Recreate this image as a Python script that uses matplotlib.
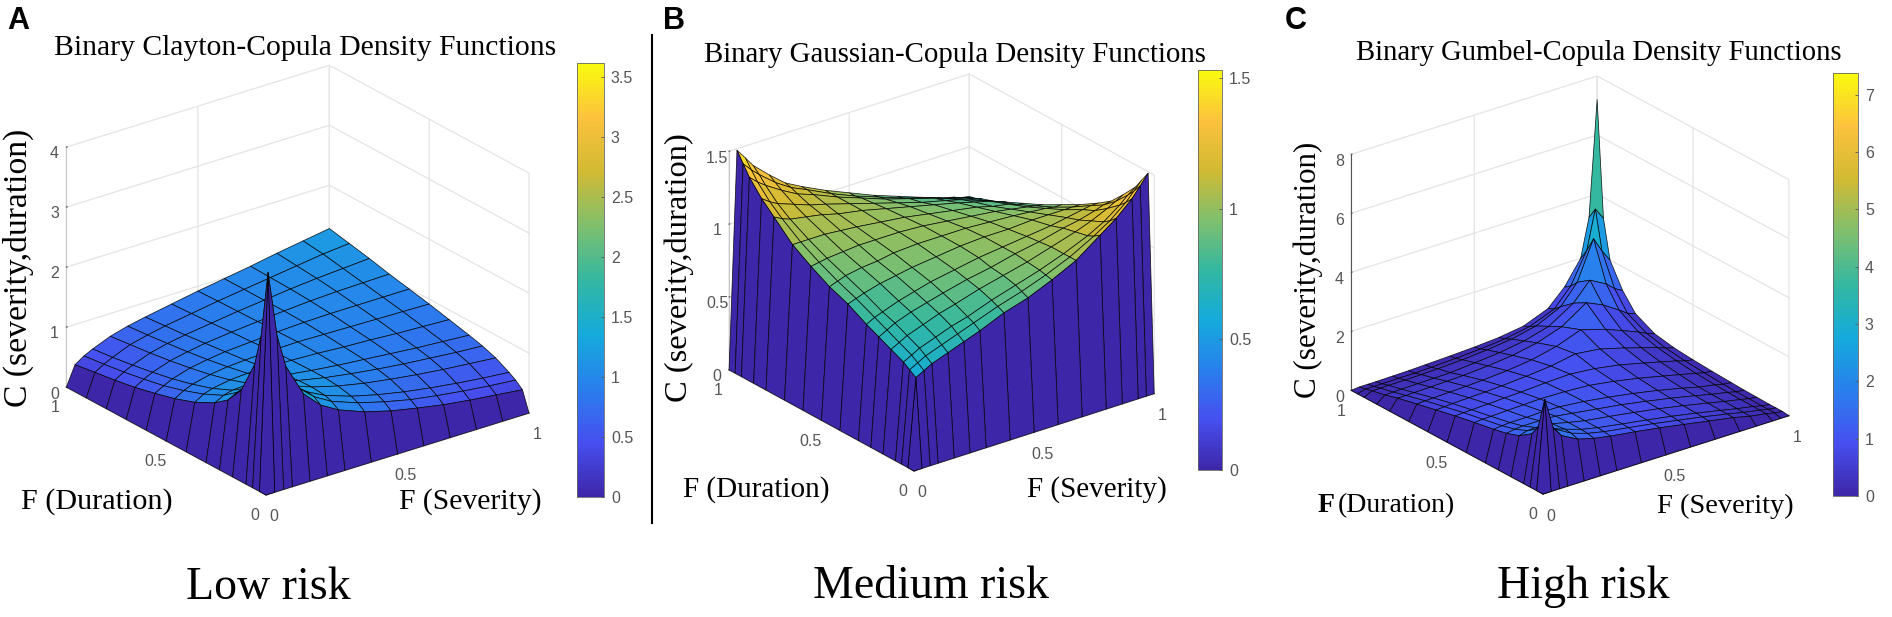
import numpy as np
import matplotlib
matplotlib.use('Agg')
import matplotlib.pyplot as plt
from matplotlib.colors import LinearSegmentedColormap, Normalize
from matplotlib.cm import ScalarMappable
from mpl_toolkits.mplot3d import proj3d

W, H = 1892, 617

# grid positions along F (Severity) and F (Duration)
grid_a = [0, .033, .067, .1, .167, .233, .3, .4, .5, .6, .7, .8, .9, 1]
grid_bc = [0, .033, .067, .1, .167, .233, .3, .4, .5, .6, .7, .8, .867, .933, .967, 1]

# surface heights, the u=0 and v=0 edges are 0
clayton = [
    [3.6, 2.5, 1.95, 1.4, 1.12, .95, .78, .66, .57, .49, .43, .38, .33],
    [2.5, 2.2, 1.85, 1.45, 1.2, 1.03, .87, .75, .65, .58, .52, .47, .43],
    [1.95, 1.85, 1.7, 1.42, 1.22, 1.07, .92, .81, .72, .65, .59, .54, .5],
    [1.4, 1.45, 1.42, 1.32, 1.2, 1.09, .97, .88, .81, .75, .7, .66, .62],
    [1.12, 1.2, 1.22, 1.2, 1.15, 1.08, .99, .92, .86, .81, .77, .73, .7],
    [.95, 1.03, 1.07, 1.09, 1.08, 1.05, .99, .94, .9, .86, .82, .79, .76],
    [.78, .87, .92, .97, .99, .99, .98, .96, .93, .91, .88, .86, .84],
    [.66, .75, .81, .88, .92, .94, .96, .97, .96, .95, .94, .93, .92],
    [.57, .65, .72, .81, .86, .9, .93, .96, .98, .99, .99, .99, .99],
    [.49, .58, .65, .75, .81, .86, .91, .95, .99, 1.02, 1.04, 1.05, 1.06],
    [.43, .52, .59, .7, .77, .82, .88, .94, .99, 1.04, 1.08, 1.11, 1.14],
    [.38, .47, .54, .66, .73, .79, .86, .93, .99, 1.05, 1.11, 1.17, 1.21],
    [.33, .43, .5, .62, .7, .76, .84, .92, .99, 1.06, 1.14, 1.21, 1.28],
]
gaussian = [
    [.60, .63, .66, .70, .74, .78, .85, .90, .97, 1.05, 1.17, 1.25, 1.35, 1.42, 1.49],
    [.63, .66, .69, .73, .77, .81, .87, .92, .98, 1.05, 1.14, 1.21, 1.30, 1.36, 1.42],
    [.66, .69, .72, .76, .80, .83, .89, .94, .99, 1.05, 1.12, 1.18, 1.26, 1.31, 1.35],
    [.70, .73, .76, .80, .84, .87, .92, .96, 1.00, 1.05, 1.10, 1.14, 1.19, 1.22, 1.25],
    [.74, .77, .80, .84, .87, .90, .94, .97, 1.01, 1.04, 1.08, 1.10, 1.13, 1.15, 1.16],
    [.78, .81, .83, .87, .90, .93, .96, .99, 1.01, 1.03, 1.05, 1.07, 1.09, 1.10, 1.10],
    [.85, .87, .89, .92, .94, .96, .98, 1.0, 1.01, 1.01, 1.02, 1.02, 1.02, 1.02, 1.02],
    [.90, .92, .94, .96, .97, .99, 1.0, 1.0, 1.0, .99, .98, .97, .96, .95, .95],
    [.97, .98, .99, 1.0, 1.01, 1.01, 1.01, 1.0, .98, .96, .94, .92, .90, .89, .88],
    [1.05, 1.05, 1.05, 1.05, 1.04, 1.03, 1.01, .99, .96, .93, .90, .87, .85, .83, .82],
    [1.17, 1.14, 1.12, 1.10, 1.08, 1.05, 1.02, .98, .94, .90, .86, .83, .80, .78, .76],
    [1.25, 1.21, 1.18, 1.14, 1.10, 1.07, 1.02, .97, .92, .87, .83, .80, .76, .74, .72],
    [1.35, 1.30, 1.26, 1.19, 1.13, 1.09, 1.02, .96, .90, .85, .80, .76, .73, .71, .69],
    [1.42, 1.36, 1.31, 1.22, 1.15, 1.10, 1.02, .95, .89, .83, .78, .74, .71, .69, .67],
    [1.49, 1.42, 1.35, 1.25, 1.16, 1.10, 1.02, .95, .88, .82, .76, .72, .69, .67, .66],
]
gumbel = [
    [3.0, 1.95, 1.6, 1.3, 1.15, 1.05, .93, .8, .65, .5, .35, .22, .13, .07, .03],
    [1.95, 2.0, 1.7, 1.38, 1.2, 1.08, .95, .82, .67, .52, .35, .23, .13, .07, .03],
    [1.6, 1.7, 1.6, 1.4, 1.22, 1.1, .96, .83, .69, .53, .36, .24, .14, .07, .03],
    [1.3, 1.38, 1.4, 1.35, 1.22, 1.1, .98, .85, .71, .55, .37, .25, .14, .08, .04],
    [1.15, 1.2, 1.22, 1.22, 1.2, 1.12, 1.0, .88, .73, .57, .39, .26, .15, .08, .05],
    [1.05, 1.08, 1.1, 1.1, 1.12, 1.1, 1.02, .9, .76, .6, .41, .27, .17, .1, .07],
    [.93, .95, .96, .98, 1.0, 1.02, 1.0, .95, .82, .66, .47, .34, .21, .14, .1],
    [.8, .82, .83, .85, .88, .9, .95, .98, .9, .76, .56, .42, .28, .19, .14],
    [.65, .67, .69, .71, .73, .76, .82, .9, 1.05, .95, .72, .55, .38, .27, .2],
    [.5, .52, .53, .55, .57, .6, .66, .76, .95, 1.25, 1.0, .78, .56, .42, .32],
    [.35, .35, .36, .37, .39, .41, .47, .56, .72, 1.0, 1.55, 1.3, .95, .75, .65],
    [.22, .23, .24, .25, .26, .27, .34, .42, .55, .78, 1.3, 1.9, 1.6, 1.35, 1.2],
    [.13, .13, .14, .14, .15, .17, .21, .28, .38, .56, .95, 1.6, 2.9, 2.4, 2.0],
    [.07, .07, .07, .08, .08, .1, .14, .19, .27, .42, .75, 1.35, 2.4, 3.7, 3.3],
    [.03, .03, .03, .04, .05, .07, .1, .14, .2, .32, .65, 1.2, 2.0, 3.3, 7.2],
]

xy_ticks = [0, .5, 1]
xy_labels = ['0', '0.5', '1']
z_ticks_a = [0, 1, 2, 3, 4]
z_ticks_b = [0, .5, 1, 1.5]
z_ticks_c = [0, 2, 4, 6, 8]
z_labels_a = ['0', '1', '2', '3', '4']
z_labels_b = ['0', '0.5', '1', '1.5']
z_labels_c = ['0', '2', '4', '6', '8']
bar_ticks_a = [0, .5, 1, 1.5, 2, 2.5, 3, 3.5]
bar_labels_a = ['0', '0.5', '1', '1.5', '2', '2.5', '3', '3.5']
bar_ticks_b = [0, .5, 1, 1.5]
bar_labels_b = ['0', '0.5', '1', '1.5']
bar_ticks_c = [0, 1, 2, 3, 4, 5, 6, 7]
bar_labels_c = ['0', '1', '2', '3', '4', '5', '6', '7']

# parula is not in matplotlib
parula = LinearSegmentedColormap.from_list('parula', [
    (.2422, .1504, .6603), (.2760, .3100, .9400), (.1600, .5000, .9300),
    (.0800, .6700, .8600), (.2000, .7200, .6300), (.5000, .7500, .4300),
    (.8200, .7300, .2000), (.9900, .7600, .2400), (.9763, .9831, .0538)])

plt.rcParams['font.family'] = ['Liberation Sans', 'DejaVu Sans']
serif = 'Liberation Serif'
fig = plt.figure(figsize=(W / 100, H / 100), dpi=100)


def ftext(px, py, s, **kw):
    kw.setdefault('ha', 'center')
    kw.setdefault('va', 'center')
    return fig.text(px / W, 1 - py / H, s, **kw)


def corners_px(ax):
    # where the floor corners end up in pixels
    ax.apply_aspect()
    xs, ys, _ = proj3d.proj_transform(np.array([0., 1.]), np.array([0., 0.]), np.array([0., 0.]), ax.get_proj())
    return ax.transData.transform(np.column_stack([xs, ys]))


def panel(grid, inner, zlim, zticks, zlabels, vmax, elev, azim, aspect, front, right, edge):
    Z = np.pad(np.array(inner), ((1, 0), (1, 0)))
    X, Y = np.meshgrid(grid, grid)
    side = .3
    ax = fig.add_axes([.1, .1, side, side * W / H], projection='3d', proj_type='ortho')
    ax.computed_zorder = False
    ax.set_box_aspect(aspect)
    ax.view_init(elev=elev, azim=azim)
    norm = Normalize(0, vmax)
    style = dict(rstride=1, cstride=1, shade=False, edgecolor=(0, 0, 0, .85), linewidth=.55)
    C = parula(norm(Z))
    # top of the surface first, the two steep strips along the 0 edges stand in front of it
    ax.plot_surface(X[1:, 1:], Y[1:, 1:], Z[1:, 1:], facecolors=C[1:, 1:], zorder=1, **style)
    ax.plot_surface(X[:2, :], Y[:2, :], Z[:2, :], facecolors=C[:2, :], zorder=2, **style)
    ax.plot_surface(X[:, :2], Y[:, :2], Z[:, :2], facecolors=C[:, :2], zorder=2, **style)
    ax.set_xlim(0, 1, view_margin=0)
    ax.set_ylim(0, 1, view_margin=0)
    ax.set_zlim(0, zlim, view_margin=0)
    ax.set_xticks(xy_ticks, xy_labels)
    ax.set_yticks(xy_ticks, xy_labels)
    ax.set_zticks(zticks, zlabels)
    for a in (ax.xaxis, ax.yaxis, ax.zaxis):
        a.pane.set_visible(False)
        a.line.set_color(edge)
        a.line.set_linewidth(.8)
        a._axinfo['grid']['color'] = '#e4e4e4'
        a._axinfo['grid']['linewidth'] = .9
        a._axinfo['tick']['inward_factor'] = 0
        a._axinfo['tick']['outward_factor'] = .04
    ax.tick_params(labelsize=11.5, labelcolor='#555555', color='#555555', pad=0)
    ax.tick_params(axis='z', pad=-3)
    ax.patch.set_alpha(0)

    # size and shift the axes so the floor corners land where they are in the picture
    p = corners_px(ax)
    now = np.hypot(*(p[1] - p[0]))
    want = np.hypot(right[0] - front[0], right[1] - front[1])
    side = side * want / now
    ax.set_position([.1, .1, side, side * W / H])
    p = corners_px(ax)
    ax.set_position([.1 + (front[0] - p[0][0]) / W, .1 + (H - front[1] - p[0][1]) / H, side, side * W / H])
    return ax, norm


def colorbar(norm, x0, x1, top, bottom, ticks, labels):
    cax = fig.add_axes([x0 / W, 1 - bottom / H, (x1 - x0) / W, (bottom - top) / H])
    cb = fig.colorbar(ScalarMappable(norm=norm, cmap=parula), cax=cax)
    cb.set_ticks(ticks, labels=labels)
    cb.ax.tick_params(direction='in', length=2, width=.6, labelsize=11.5, labelcolor='#555555', color='#555555', pad=5)
    cb.outline.set_linewidth(.6)
    cb.outline.set_edgecolor('#666666')


# panel A
ax, norm = panel(grid_a, clayton, 4, z_ticks_a, z_labels_a, 3.62, 24.2, -127.2, (330, 330, 263),
                 (266, 495), (529, 413), '#c8c8c8')
colorbar(norm, 577, 604, 63, 497, bar_ticks_a, bar_labels_a)
ftext(305, 48, 'Binary Clayton-Copula Density Functions', family=serif, fontsize=21.3)
ftext(18, 268, 'C (severity,duration)', family=serif, fontsize=24.2, rotation=90)
ftext(97, 502, 'F (Duration)', family=serif, fontsize=21.7)
ftext(470, 502, 'F (Severity)', family=serif, fontsize=21.3)
ftext(268, 588, 'Low risk', family=serif, fontsize=33)

# panel B
ax, norm = panel(grid_bc, gaussian, 1.5, z_ticks_b, z_labels_b, 1.53, 24.8, -127.5, (303, 304, 241),
                 (914, 471), (1154, 393), '#c8c8c8')
colorbar(norm, 1198, 1222, 70, 470, bar_ticks_b, bar_labels_b)
ftext(955, 55, 'Binary Gaussian-Copula Density Functions', family=serif, fontsize=20.8)
ftext(679, 268, 'C (severity,duration)', family=serif, fontsize=23.4, rotation=90)
ftext(756, 490, 'F (Duration)', family=serif, fontsize=21)
ftext(1097, 490, 'F (Severity)', family=serif, fontsize=21)
ftext(931, 587, 'Medium risk', family=serif, fontsize=33)

# panel C
ax, norm = panel(grid_bc, gumbel, 8, z_ticks_c, z_labels_c, 7.38, 24.5, -127.5, (307, 312, 257),
                 (1543, 494), (1788, 413), '#555555')
colorbar(norm, 1833, 1858, 73, 496, bar_ticks_c, bar_labels_c)
ftext(1599, 53, 'Binary Gumbel-Copula Density Functions', family=serif, fontsize=20.6)
ftext(1308, 270, 'C (severity,duration)', family=serif, fontsize=22.3, rotation=90)
ftext(1318, 506, 'F', family=serif, fontsize=20, fontweight='bold', ha='left')
ftext(1338, 506, '(Duration)', family=serif, fontsize=20, ha='left')
ftext(1725, 506, 'F (Severity)', family=serif, fontsize=20.5)
ftext(1583, 587, 'High risk', family=serif, fontsize=33)

# panel letters
ftext(18, 21, 'A', fontsize=22, fontweight='bold')
ftext(674, 21, 'B', fontsize=22, fontweight='bold')
ftext(1296, 21, 'C', fontsize=22, fontweight='bold')

# line between A and B
fig.add_artist(plt.Line2D([652 / W, 652 / W], [1 - 35 / H, 1 - 523 / H], color='black', linewidth=1.5))

fig.savefig('out.png', dpi=100)
